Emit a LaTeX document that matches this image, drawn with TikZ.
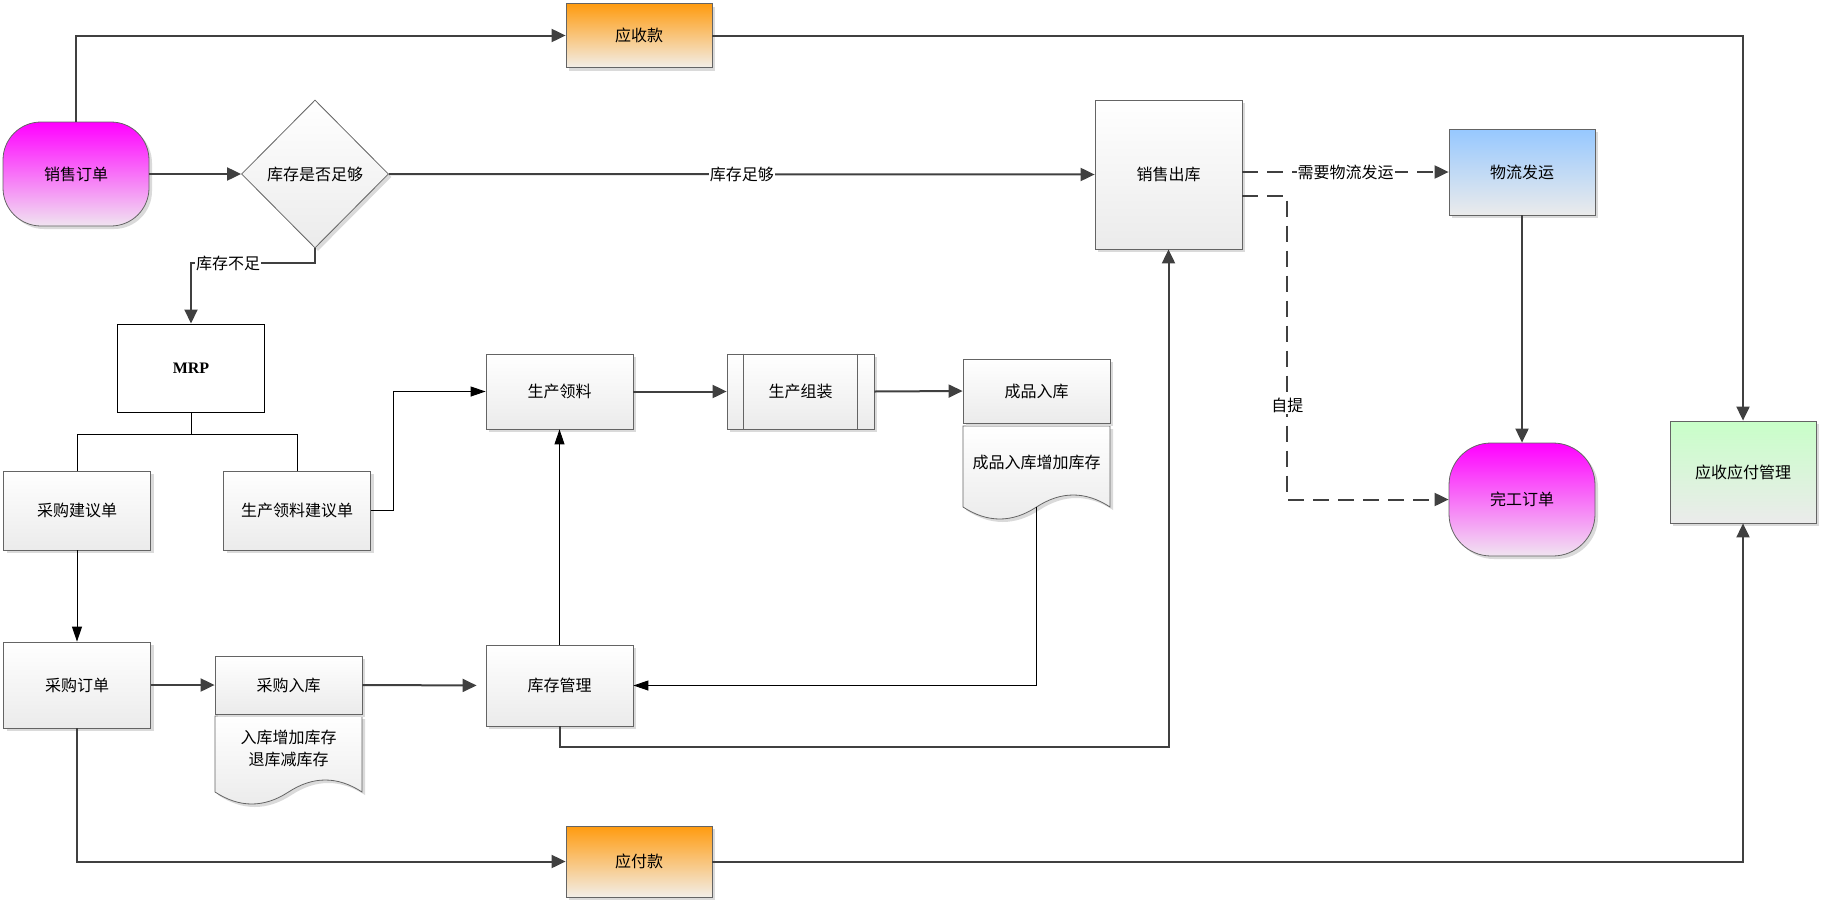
\documentclass[tikz,border=0pt]{standalone}
\usepackage{fontspec}
\setmainfont{Noto Sans CJK SC}
\newfontfamily\mrpfont{Liberation Serif}
\usetikzlibrary{arrows.meta,shapes.geometric,shadows}

\definecolor{linegray}{RGB}{64,64,64}
\definecolor{edgegray}{RGB}{100,100,100}
\definecolor{boxbot}{RGB}{235,235,235}
\definecolor{orangetop}{RGB}{255,155,15}
\definecolor{orangebot}{RGB}{242,238,232}
\definecolor{magtop}{RGB}{255,0,255}
\definecolor{magbot}{RGB}{240,228,240}
\definecolor{bluetop}{RGB}{150,200,255}
\definecolor{greentop}{RGB}{200,255,200}
\definecolor{shadowgray}{RGB}{218,218,218}

\begin{document}
\begin{tikzpicture}[x=1pt,y=1pt,yscale=-1,xscale=1,
    font=\fontsize{16}{22}\selectfont,
    boxshadow/.style={drop shadow={shadow xshift=3pt,shadow yshift=-3pt,fill=shadowgray,opacity=1}},
    box/.style={draw=edgegray,line width=0.8pt,top color=white,bottom color=boxbot,
        minimum width=147pt,inner sep=0pt,align=center,boxshadow},
    term/.style={box,rounded corners=38pt,top color=magtop,bottom color=magbot},
    money/.style={box,top color=orangetop,bottom color=orangebot},
    decision/.style={box,diamond,minimum height=148pt},
    docpart/.style={draw=edgegray,line width=0.8pt,top color=white,bottom color=boxbot,boxshadow},
    flow/.style={draw=linegray,line width=2pt,-{Triangle[length=14pt,width=13pt]}},
    thinflow/.style={draw=black,line width=1pt,-{Triangle[length=15pt,width=10pt]}},
    tree/.style={draw=black,line width=1pt},
    dashflow/.style={flow,dash pattern=on 16pt off 9pt},
    lbl/.style={fill=white,inner sep=1pt}]
    \useasboundingbox (0,0) rectangle (1825,905);
    %Shape: Document
    \draw[docpart] (215,716) -- (362,716) -- (362,792) .. controls (337.5,776) and (313,776) .. (288.5,792) .. controls (264,808) and (239.5,808) .. (215,792) -- cycle;
    %Shape: Document
    \draw[docpart] (963,426) -- (1110,426) -- (1110,507) .. controls (1085.5,491) and (1061,491) .. (1036.5,507) .. controls (1012,523) and (987.5,523) .. (963,507) -- cycle;
    \coordinate (cpout) at (1036.5,507);

    % Text Node
    \node[term,minimum width=146pt,minimum height=104pt] (xsdd) at (76,174) {销售订单};
    \node[decision] (kcpd) at (315,174) {库存是否足够};
    \node[money,minimum width=146pt,minimum height=64pt] (ysk) at (639,35.5) {应收款};
    \node[box,minimum height=149pt] (xsck) at (1168.5,174.5) {销售出库};
    \node[box,top color=bluetop,minimum width=146pt,minimum height=86pt] (wlfy) at (1522,172) {物流发运};
    \node[draw=black,line width=1pt,fill=white,minimum width=147pt,minimum height=88pt,font=\fontsize{16}{20}\mrpfont\bfseries] (mrp) at (191,368) {MRP};
    \node[box,minimum height=79pt] (cgjyd) at (77,510.5) {采购建议单};
    \node[box,minimum height=79pt] (sclljyd) at (297,510.5) {生产领料建议单};
    \node[box,minimum height=75pt] (scll) at (559.5,391.5) {生产领料};
    \node[box,minimum height=75pt] (sczz) at (800.5,391.5) {生产组装};
    \draw[edgegray,line width=0.8pt] ([xshift=17pt]sczz.north west) -- ([xshift=17pt]sczz.south west);
    \draw[edgegray,line width=0.8pt] ([xshift=-17pt]sczz.north east) -- ([xshift=-17pt]sczz.south east);
    \node[box,minimum height=64pt] (cprk) at (1036.5,391) {成品入库};
    \node[align=center] (cprkdoc) at (1036.5,462) {成品入库增加库存};
    \node[term,rounded corners=42pt,minimum width=146pt,minimum height=113pt] (wgdd) at (1522,499.5) {完工订单};
    \node[box,top color=greentop,minimum width=146pt,minimum height=102pt] (ysyfgl) at (1743,472) {应收应付管理};
    \node[box,minimum height=86pt] (cgdd) at (77,685) {采购订单};
    \node[box,minimum height=58pt] (cgrk) at (288.5,685) {采购入库};
    \node[align=center] (cgrkdoc) at (288.5,748) {入库增加库存\\退库减库存};
    \node[box,minimum height=81pt] (kcgl) at (559.5,685.5) {库存管理};
    \node[money,minimum width=146pt,minimum height=71pt] (yfk) at (639,861.5) {应付款};

    %Straight Lines
    \draw[flow] (xsdd.north) |- (ysk.west);
    \draw[flow] (ysk.east) -| (ysyfgl.north);
    \draw[flow] (xsdd.east) -- (kcpd.west);
    \draw[flow] (kcpd.east) -- node[lbl] {库存足够} (xsck.west);
    \draw[flow] (kcpd.south) -- ++(0,15) -| node[lbl,pos=0.35] {库存不足} (mrp.north);
    \draw[tree] (mrp.south) -- ++(0,22) -| (cgjyd.north);
    \draw[tree] (mrp.south) -- ++(0,22) -| (sclljyd.north);
    \draw[thinflow] (cgjyd.south) -- (cgdd.north);
    \draw[thinflow] (sclljyd.east) -- ++(23,0) |- (scll.west);
    \draw[flow] (scll.east) -- (sczz.west);
    \draw[flow] (sczz.east) -- (cprk.west);
    \draw[thinflow] (cpout) |- (kcgl.east);
    \draw[flow] (cgdd.east) -- (cgrk.west);
    \draw[flow,shorten >=9pt] (cgrk.east) -- (kcgl.west);
    \draw[thinflow] (kcgl.north) -- (scll.south);
    \draw[flow] (kcgl.south) -- ++(0,21) -| (xsck.south);
    \draw[dashflow] (xsck.east |- wlfy.west) -- node[lbl] {需要物流发运} (wlfy.west);
    \draw[dashflow] (xsck.east) ++(0,21) -- ++(45,0) |- node[lbl,pos=0.345] {自提} (wgdd.west);
    \draw[flow] (wlfy.south) -- (wgdd.north);
    \draw[flow] (cgdd.south) |- (yfk.west);
    \draw[flow] (yfk.east) -| (ysyfgl.south);
\end{tikzpicture}
\end{document}
